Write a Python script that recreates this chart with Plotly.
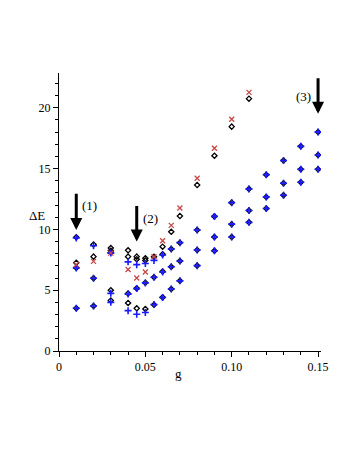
import plotly.graph_objects as go

# g values with several levels each (black diamonds)
black_g = [0.01, 0.01, 0.01, 0.01,
           0.02, 0.02, 0.02, 0.02,
           0.03, 0.03, 0.03, 0.03, 0.03,
           0.04, 0.04, 0.04, 0.04,
           0.045, 0.045, 0.045, 0.045,
           0.05, 0.05, 0.05, 0.05,
           0.055, 0.055, 0.055,
           0.06, 0.06, 0.06, 0.06,
           0.065, 0.065, 0.065, 0.065,
           0.07, 0.07, 0.07, 0.07,
           0.08, 0.08, 0.08, 0.08,
           0.09, 0.09, 0.09, 0.09,
           0.10, 0.10, 0.10, 0.10,
           0.11, 0.11, 0.11, 0.11,
           0.12, 0.12, 0.12,
           0.13, 0.13, 0.13,
           0.14, 0.14, 0.14,
           0.15, 0.15, 0.15]
black_dE = [9.35, 7.25, 6.85, 3.51,
            8.76, 7.76, 5.98, 3.70,
            8.46, 8.25, 8.10, 5.00, 4.16,
            8.28, 7.76, 4.72, 3.95,
            7.76, 7.55, 5.15, 3.51,
            7.62, 7.45, 5.62, 3.46,
            7.74, 6.06, 3.80,
            8.58, 7.95, 6.53, 4.41,
            9.80, 8.39, 6.93, 5.10,
            11.10, 8.91, 7.40, 5.77,
            13.65, 9.95, 8.30, 7.02,
            16.06, 11.07, 9.37, 8.24,
            18.45, 12.20, 10.43, 9.38,
            20.75, 13.33, 11.55, 10.58,
            14.50, 12.67, 11.72,
            15.66, 13.80, 12.81,
            16.83, 14.94, 13.88,
            18.00, 16.12, 14.94]

# blue crosses
blue_g = [0.01, 0.01, 0.01,
          0.02, 0.02, 0.02,
          0.03, 0.03, 0.03,
          0.04, 0.04, 0.04,
          0.045, 0.045, 0.045,
          0.05, 0.05, 0.05,
          0.055, 0.055, 0.055,
          0.06, 0.06, 0.06,
          0.065, 0.065, 0.065,
          0.07, 0.07, 0.07,
          0.08, 0.08, 0.08,
          0.09, 0.09, 0.09,
          0.10, 0.10, 0.10,
          0.11, 0.11, 0.11,
          0.12, 0.12, 0.12,
          0.13, 0.13, 0.13,
          0.14, 0.14, 0.14,
          0.15, 0.15, 0.15]
blue_dE = [9.30, 6.82, 3.51,
           8.65, 5.98, 3.70,
           8.05, 4.74, 4.00,
           7.33, 4.68, 3.32,
           7.10, 5.13, 3.02,
           7.20, 5.60, 3.16,
           7.45, 6.06, 3.82,
           7.90, 6.50, 4.40,
           8.39, 6.93, 5.10,
           8.91, 7.40, 5.77,
           9.95, 8.30, 7.02,
           11.07, 9.37, 8.24,
           12.20, 10.43, 9.38,
           13.33, 11.55, 10.58,
           14.50, 12.67, 11.72,
           15.66, 13.80, 12.81,
           16.83, 14.94, 13.88,
           18.00, 16.12, 14.94]

# red crosses
red_g = [0.01, 0.02, 0.03, 0.04, 0.045, 0.05, 0.055, 0.06, 0.065, 0.07,
         0.08, 0.09, 0.10, 0.11]
red_dE = [7.10, 7.37, 8.05, 6.70, 6.00, 6.50, 7.76, 9.07, 10.33, 11.76,
          14.20, 16.67, 19.05, 21.27]

# arrows: (label, g, top, tip, label g, label dE)
arrows = [("(1)", 0.01, 13.05, 9.95, 0.0178, 11.95),
          ("(2)", 0.045, 12.05, 9.0, 0.053, 10.9),
          ("(3)", 0.15, 22.55, 19.5, 0.1415, 20.9)]

fig = go.Figure()
fig.add_trace(go.Scatter(x=black_g, y=black_dE, mode="markers",
                         marker=dict(symbol="diamond-open", size=4, color="black",
                                     line=dict(width=1.3, color="black"))))
fig.add_trace(go.Scatter(x=blue_g, y=blue_dE, mode="markers",
                         marker=dict(symbol="cross-thin", size=5, color="#1a1aff",
                                     line=dict(width=1.6, color="#1a1aff"))))
fig.add_trace(go.Scatter(x=red_g, y=red_dE, mode="markers",
                         marker=dict(symbol="x-thin", size=5, color="#c84646",
                                     line=dict(width=1.3, color="#c84646"))))

serif = "Liberation Serif"
for lab, g, top, tip, lx, ly in arrows:
    fig.add_annotation(x=g, y=tip, ax=g, ay=top, xref="x", yref="y", axref="x", ayref="y",
                       text="", showarrow=True, arrowhead=2, arrowsize=0.8,
                       arrowwidth=3, arrowcolor="black")
    fig.add_annotation(x=lx, y=ly, xref="x", yref="y", text=lab, showarrow=False,
                       font=dict(family=serif, size=13, color="black"))

fig.add_annotation(x=-0.122, y=11.18, xref="paper", yref="y", text="ΔE", showarrow=False,
                   font=dict(family=serif, size=13, color="black"))
fig.add_annotation(x=0.069, y=-0.115, xref="x", yref="paper", text="g", showarrow=False,
                   font=dict(family=serif, size=13, color="black"))

# page body adds an 8px offset, so margins are shifted by that amount
fig.update_layout(
    width=353, height=457,
    margin=dict(l=51, r=40, t=65, b=114),
    paper_bgcolor="white", plot_bgcolor="white",
    showlegend=False,
    font=dict(family=serif, size=12, color="black"),
    xaxis=dict(range=[0, 0.1517], showgrid=False, zeroline=False,
               showline=True, linecolor="black", linewidth=1,
               ticks="outside", ticklen=5, tickcolor="black",
               tickvals=[0, 0.05, 0.10, 0.15], ticktext=["0", "0.05", "0.10", "0.15"],
               minor=dict(dtick=0.01, ticks="outside", ticklen=3, tickcolor="black",
                          showgrid=False)),
    yaxis=dict(range=[0, 22.86], showgrid=False, zeroline=False,
               showline=True, linecolor="black", linewidth=1,
               ticks="outside", ticklen=5, tickcolor="black",
               tickvals=[0, 5, 10, 15, 20],
               minor=dict(dtick=1, ticks="outside", ticklen=3, tickcolor="black",
                          showgrid=False)),
)

fig.write_html("out.html")
